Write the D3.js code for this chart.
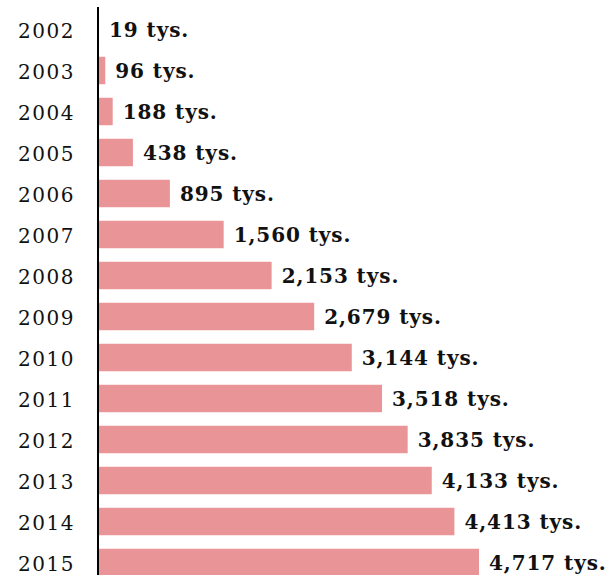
<!DOCTYPE html>
<html>
<head>
<meta charset="utf-8">
<script src="https://cdn.jsdelivr.net/npm/d3@7"></script>
<style>
  html, body { margin: 0; padding: 0; background: #fff; }
  svg { display: block; }
</style>
</head>
<body>
<svg id="chart" width="607" height="575"></svg>
<script>
// Years and values (thousands)
const years = ["2002","2003","2004","2005","2006","2007","2008","2009","2010","2011","2012","2013","2014","2015"];
const values = [19, 96, 188, 438, 895, 1560, 2153, 2679, 3144, 3518, 3835, 4133, 4413, 4717];
const valueLabels = ["19 tys.","96 tys.","188 tys.","438 tys.","895 tys.","1,560 tys.","2,153 tys.","2,679 tys.","3,144 tys.","3,518 tys.","3,835 tys.","4,133 tys.","4,413 tys.","4,717 tys."];

const svg = d3.select("#chart");
const data = years.map((y, i) => ({ year: y, value: values[i], label: valueLabels[i] }));

const x = d3.scaleLinear().domain([0, 4717]).range([97.5, 479]);
const y = d3.scaleBand().domain(years).range([9, 583]).paddingInner(0.33).paddingOuter(0.165);

// bars
svg.append("g").selectAll("rect").data(data).join("rect")
  .attr("x", x(0))
  .attr("y", d => y(d.year))
  .attr("width", d => x(d.value) - x(0))
  .attr("height", y.bandwidth())
  .attr("fill", "#e99597");

// value labels
svg.append("g").selectAll("text").data(data).join("text")
  .attr("x", d => Math.max(x(d.value), 99) + 10)
  .attr("y", d => y(d.year) + y.bandwidth() / 2 + 7)
  .attr("font-family", "'DejaVu Serif', serif")
  .attr("font-weight", "bold")
  .attr("font-size", 20)
  .attr("letter-spacing", 0.9)
  .attr("fill", "#111")
  .text(d => d.label);

// year labels
svg.append("g").selectAll("text").data(data).join("text")
  .attr("x", 75)
  .attr("y", d => y(d.year) + y.bandwidth() / 2 + 8)
  .attr("text-anchor", "end")
  .attr("font-family", "'DejaVu Serif', serif")
  .attr("font-size", 20)
  .attr("letter-spacing", 1.5)
  .attr("fill", "#111")
  .text(d => d.year);

// vertical axis line
svg.append("line")
  .attr("x1", 98).attr("x2", 98)
  .attr("y1", 7).attr("y2", 575)
  .attr("stroke", "#000")
  .attr("stroke-width", 2);
</script>
</body>
</html>
